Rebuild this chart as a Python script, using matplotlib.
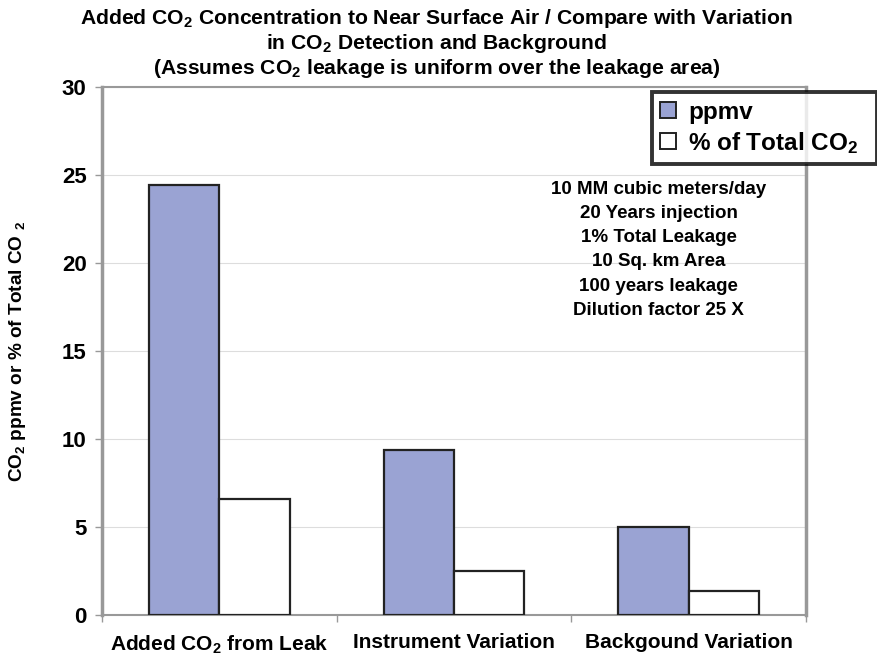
import matplotlib
matplotlib.use("Agg")
import matplotlib.pyplot as plt
import numpy as np

plt.rcParams['font.family'] = ['Liberation Sans', 'DejaVu Sans']
plt.rcParams['mathtext.fontset'] = 'custom'
plt.rcParams['mathtext.rm'] = 'Liberation Sans:bold'
plt.rcParams['mathtext.it'] = 'Liberation Sans:bold'
plt.rcParams['mathtext.bf'] = 'Liberation Sans:bold'

categories = ["Added CO$_2$ from Leak", "Instrument Variation", "Backgound Variation"]
ppmv = [24.4, 9.4, 5.0]
pct_total = [6.6, 2.5, 1.4]
series_labels = ["ppmv", "% of Total CO$_2$"]
yticks = [0, 5, 10, 15, 20, 25, 30]
notes = ["10 MM cubic meters/day", "20 Years injection", "1% Total Leakage",
         "10 Sq. km Area", "100 years leakage", "Dilution factor 25 X"]

fig = plt.figure(figsize=(8.78, 6.58), dpi=100)
ax = fig.add_axes([0.116, 0.065, 0.802, 0.803])

x = np.arange(len(categories))
w = 0.3
ax.bar(x - w / 2, ppmv, w, color='#9aa3d3', edgecolor='#222222', linewidth=1.6,
       label=series_labels[0], zorder=3)
ax.bar(x + w / 2, pct_total, w, color='white', edgecolor='#222222', linewidth=1.6,
       label=series_labels[1], zorder=3)

ax.set_xlim(-0.5, len(categories) - 0.5)
ax.set_ylim(0, 30)
ax.set_yticks(yticks)
ax.set_yticklabels([str(t) for t in yticks], fontsize=16, fontweight='bold')
ax.yaxis.grid(True, color='#dddddd', linewidth=0.8, zorder=0)

# category labels centred, tick marks drawn between groups
ax.set_xticks(x)
ax.set_xticklabels(categories, fontsize=15, fontweight='bold')
ax.tick_params(axis='x', length=0, pad=13)
ax.set_xticks(np.arange(-0.5, len(categories)), minor=True)
ax.tick_params(axis='x', which='minor', length=5, color='#999999', width=1)
ax.tick_params(axis='y', length=5, color='#999999', width=1, pad=6)

for s in ax.spines.values():
    s.set_color('#999999')
    s.set_linewidth(2.5)
ax.spines['bottom'].set_linewidth(1.5)
ax.spines['top'].set_linewidth(1.5)

ax.set_ylabel("CO$_2$ ppmv or % of Total CO $_2$", fontsize=13.7, fontweight='bold', labelpad=24)

title_lines = ["Added CO$_2$ Concentration to Near Surface Air / Compare with Variation",
               "in CO$_2$ Detection and Background",
               "(Assumes CO$_2$ leakage is uniform over the leakage area)"]
for i, line in enumerate(title_lines):
    fig.text(0.497, 0.972 - 0.038 * i, line, ha='center', va='center',
             fontsize=15.2, fontweight='bold')

ax.text(0.791, 0.822, "\n".join(notes), transform=ax.transAxes, ha='center', va='top',
        fontsize=13.5, fontweight='bold', linespacing=1.55, zorder=4)

leg = ax.legend(loc='upper left', bbox_to_anchor=(0.781, 0.856, 0.32, 0.134), mode='expand',
                frameon=True, fancybox=False, prop={'size': 17.5, 'weight': 'bold'},
                handlelength=0.65, handleheight=0.65, handletextpad=0.5,
                borderpad=0.35, labelspacing=0.25, borderaxespad=0)
leg.get_frame().set_edgecolor('black')
leg.get_frame().set_linewidth(2.8)
leg.set_zorder(5)
for h in leg.legend_handles:
    h.set_linewidth(1.4)

fig.savefig("out.png", dpi=100)
